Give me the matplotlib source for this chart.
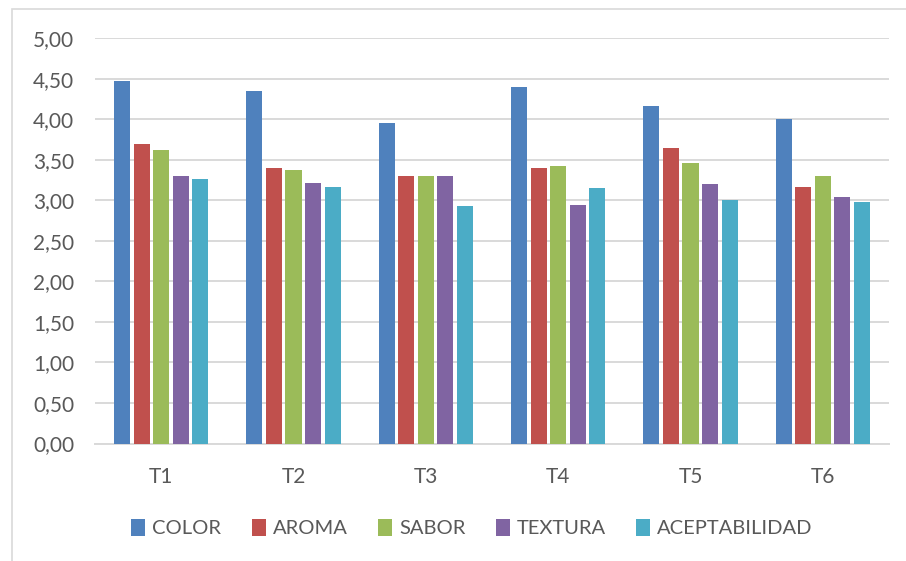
import numpy as np
import matplotlib
matplotlib.use('Agg')
import matplotlib.pyplot as plt
from matplotlib.patches import Rectangle

treatments = ['T1', 'T2', 'T3', 'T4', 'T5', 'T6']
color_vals = [4.47, 4.35, 3.95, 4.40, 4.17, 4.00]
aroma_vals = [3.70, 3.40, 3.30, 3.40, 3.65, 3.16]
sabor_vals = [3.62, 3.38, 3.30, 3.43, 3.46, 3.30]
textura_vals = [3.30, 3.21, 3.30, 2.94, 3.20, 3.04]
acept_vals = [3.26, 3.17, 2.93, 3.15, 3.01, 2.98]

series = [
    ('COLOR', color_vals, '#4F81BD'),
    ('AROMA', aroma_vals, '#C0504D'),
    ('SABOR', sabor_vals, '#9BBB59'),
    ('TEXTURA', textura_vals, '#8064A2'),
    ('ACEPTABILIDAD', acept_vals, '#4BACC6'),
]

plt.rcParams['font.family'] = ['Lato', 'DejaVu Sans']
text_color = '#595959'

fig = plt.figure(figsize=(9.06, 5.61), dpi=100)
ax = fig.add_axes([95 / 906, 1 - 443.5 / 561, (889 - 95) / 906, (443.5 - 38.3) / 561])

x = np.arange(len(treatments))
slot = 0.1476
width = 0.121
for i, (name, vals, col) in enumerate(series):
    ax.bar(x + (i - 2) * slot, vals, width, color=col, label=name, zorder=3)

ax.set_xlim(-0.5, len(treatments) - 0.5)
ax.set_ylim(0, 5)
ax.set_yticks(np.arange(0, 5.01, 0.5))
ax.set_yticklabels([f'{v:.2f}'.replace('.', ',') for v in np.arange(0, 5.01, 0.5)])
ax.set_xticks(x)
ax.set_xticklabels(treatments)

ax.grid(axis='y', color='#D9D9D9', linewidth=1.4, zorder=0)
for s in ['top', 'right', 'left']:
    ax.spines[s].set_visible(False)
ax.spines['bottom'].set_color('#D9D9D9')
ax.spines['bottom'].set_linewidth(1.4)
ax.tick_params(axis='both', length=0, labelsize=15, colors=text_color)
ax.tick_params(axis='y', pad=15)
ax.tick_params(axis='x', pad=17)

leg = fig.legend(loc='center', bbox_to_anchor=(472 / 906, 1 - 528 / 561), ncol=5,
                 frameon=False, fontsize=14.5, handlelength=0.7, handleheight=0.9,
                 handletextpad=0.35, columnspacing=1.5)
for t in leg.get_texts():
    t.set_color(text_color)

# chart border
fig.patches.append(Rectangle((12 / 906, -0.1), 1.2, 1 - 9 / 561 + 0.1,
                             transform=fig.transFigure, fill=False,
                             edgecolor='#D9D9D9', linewidth=1.2))

fig.savefig('out.png', dpi=100)
